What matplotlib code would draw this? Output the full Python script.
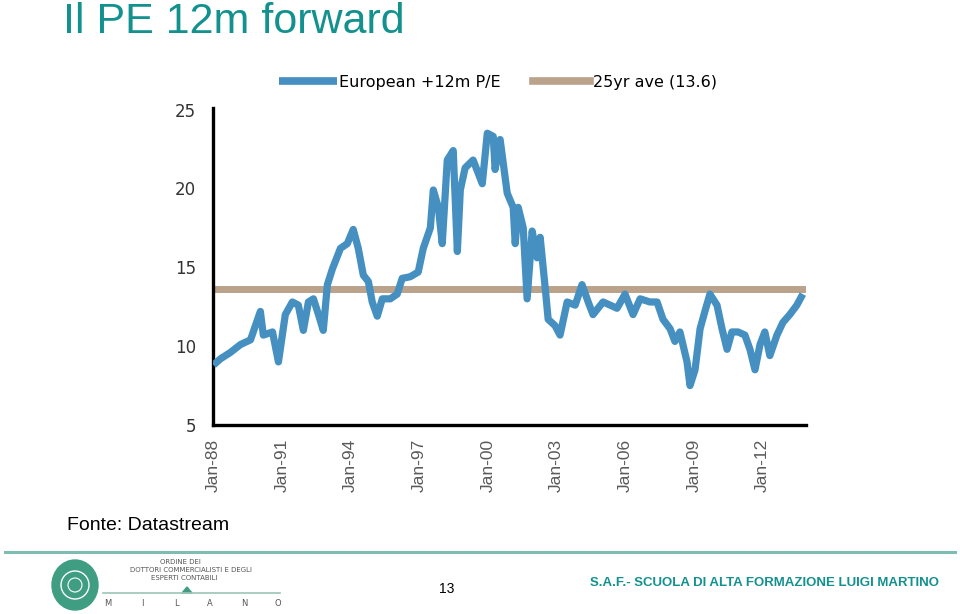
import matplotlib
matplotlib.use("Agg")
import matplotlib.pyplot as plt
from matplotlib.patches import Circle, Polygon, Ellipse

# ---- data ----
years = [1988.00, 1988.31, 1988.74, 1989.18, 1989.62, 1990.05, 1990.18, 1990.58, 1990.84,
         1991.14, 1991.45, 1991.71, 1991.93, 1992.15, 1992.37, 1992.59, 1992.80, 1992.98,
         1993.20, 1993.55, 1993.85, 1994.11, 1994.33, 1994.55, 1994.77, 1994.94, 1995.16,
         1995.38, 1995.73, 1996.03, 1996.25, 1996.60, 1996.95, 1997.17, 1997.48, 1997.61,
         1997.83, 1998.00, 1998.22, 1998.48, 1998.66, 1998.79, 1999.00, 1999.35, 1999.75,
         1999.97, 2000.23, 2000.31, 2000.53, 2000.84, 2001.10, 2001.19, 2001.32, 2001.54,
         2001.71, 2001.93, 2002.15, 2002.28, 2002.50, 2002.63, 2002.93, 2003.15, 2003.46,
         2003.81, 2004.11, 2004.38, 2004.59, 2005.03, 2005.34, 2005.64, 2005.99, 2006.34,
         2006.65, 2007.08, 2007.39, 2007.65, 2007.96, 2008.17, 2008.39, 2008.70, 2008.83,
         2009.05, 2009.27, 2009.48, 2009.70, 2010.01, 2010.23, 2010.45, 2010.66, 2010.93,
         2011.23, 2011.45, 2011.67, 2011.89, 2012.10, 2012.32, 2012.63, 2012.89, 2013.19,
         2013.50, 2013.76]
pe_values = [8.8, 9.2, 9.6, 10.1, 10.4, 12.2, 10.7, 10.9, 9.0,
             12.0, 12.8, 12.6, 11.0, 12.8, 13.0, 12.0, 11.0, 13.9,
             14.9, 16.2, 16.5, 17.4, 16.2, 14.5, 14.1, 12.8, 11.9,
             13.0, 13.0, 13.3, 14.3, 14.4, 14.7, 16.2, 17.5, 19.9,
             18.8, 16.5, 21.8, 22.4, 16.0, 19.9, 21.3, 21.8, 20.3,
             23.5, 23.3, 21.2, 23.1, 19.7, 18.8, 16.5, 18.8, 17.5,
             13.0, 17.3, 15.6, 16.9, 13.7, 11.7, 11.3, 10.7, 12.8,
             12.6, 13.9, 12.8, 12.0, 12.8, 12.6, 12.4, 13.3, 12.0,
             13.0, 12.8, 12.8, 11.7, 11.1, 10.3, 10.9, 9.0, 7.5,
             8.5, 11.1, 12.2, 13.3, 12.6, 11.1, 9.8, 10.9, 10.9,
             10.7, 9.8, 8.5, 10.1, 10.9, 9.4, 10.7, 11.5, 12.0,
             12.6, 13.3]
avg_value = 13.6
series_labels = ["European +12m P/E", "25yr ave (13.6)"]
tick_years = [1988, 1991, 1994, 1997, 2000, 2003, 2006, 2009, 2012]
tick_labels = ["Jan-88", "Jan-91", "Jan-94", "Jan-97", "Jan-00", "Jan-03", "Jan-06", "Jan-09", "Jan-12"]
y_ticks = [5, 10, 15, 20, 25]

BLUE = "#4590c0"
TAN = "#baa28b"
TEAL = "#12918f"

fig = plt.figure(figsize=(9.6, 6.14), dpi=100)

# title
fig.text(63 / 960, 1 - 33 / 614, "Il PE 12m forward", fontsize=31, color=TEAL,
         family="Liberation Sans", va="baseline", ha="left")

ax = fig.add_axes([213 / 960, 1 - 425 / 614, (806 - 213) / 960, (425 - 108) / 614])
ax.plot(years, pe_values, color=BLUE, lw=5.2, solid_joinstyle="round", solid_capstyle="butt",
        label=series_labels[0], zorder=3)
ax.plot([1988.0, 2013.85], [avg_value, avg_value], color=TAN, lw=5.0, label=series_labels[1], zorder=2)
ax.set_xlim(1987.98, 2013.9)
ax.set_ylim(5, 25.1)
for s in ["top", "right"]:
    ax.spines[s].set_visible(False)
for s in ["left", "bottom"]:
    ax.spines[s].set_linewidth(2.4)
    ax.spines[s].set_color("black")
ax.set_yticks(y_ticks)
ax.set_yticklabels([str(v) for v in y_ticks], fontsize=12, color="#333333", family="DejaVu Sans")
ax.set_xticks(tick_years)
ax.set_xticklabels(tick_labels, rotation=90, fontsize=12.5, color="#5a5a5a", family="Liberation Sans")
ax.tick_params(axis="y", length=0, pad=12)
ax.tick_params(axis="x", length=0, pad=10)

leg = fig.legend(handles=ax.get_lines(), labels=series_labels, loc="center",
                 bbox_to_anchor=(498 / 960, 1 - 82 / 614), ncol=2, frameon=False,
                 handlelength=3.6, handletextpad=0.15, columnspacing=2.0,
                 prop={"family": "DejaVu Sans", "size": 11.5})
for line in leg.get_lines():
    line.set_linewidth(5.5)

fig.text(67 / 960, 1 - 525 / 614, "Fonte: Datastream", fontsize=14, family="Liberation Sans",
         va="center", ha="left", color="black")

# footer
fig.add_artist(plt.Line2D([5 / 960, 955 / 960], [1 - 552 / 614, 1 - 552 / 614],
                          color="#7fbdb3", lw=2.2, transform=fig.transFigure))
fig.text(447 / 960, 1 - 589 / 614, "13", fontsize=10, family="Liberation Sans", ha="center", va="center")
fig.text(765 / 960, 1 - 583 / 614, "S.A.F.- SCUOLA DI ALTA FORMAZIONE LUIGI MARTINO", fontsize=9.5,
         family="Liberation Sans", weight="bold", color=TEAL, ha="center", va="center")

# logo
lax = fig.add_axes([40 / 960, 1 - 612 / 614, 250 / 960, 54 / 614])
lax.set_xlim(0, 250)
lax.set_ylim(0, 54)
lax.axis("off")
lax.add_patch(Ellipse((35, 27), 46, 50, color="#3f9e82", zorder=1))
lax.add_patch(Circle((35, 27), 14, fill=False, ec="white", lw=1.0, zorder=2))
lax.add_patch(Circle((35, 27), 7, fill=False, ec="white", lw=0.8, zorder=2))
lax.text(140, 50, "ORDINE DEI", fontsize=5, ha="center", va="center", color="#555555", family="DejaVu Sans")
lax.text(151, 42, "DOTTORI COMMERCIALISTI E DEGLI", fontsize=5, ha="center", va="center", color="#555555",
         family="DejaVu Sans")
lax.text(144, 34, "ESPERTI CONTABILI", fontsize=5, ha="center", va="center", color="#555555",
         family="DejaVu Sans")
lax.plot([63, 240], [19, 19], color="#9ac6b4", lw=1.2)
lax.add_patch(Polygon([[142, 19], [147, 25], [152, 19]], color="#3f9e82"))
for i, ch in enumerate("MILANO"):
    lax.text(68 + i * 34, 9, ch, fontsize=6, ha="center", va="center", color="#555555", family="DejaVu Sans")

fig.savefig("out.png", dpi=100)
